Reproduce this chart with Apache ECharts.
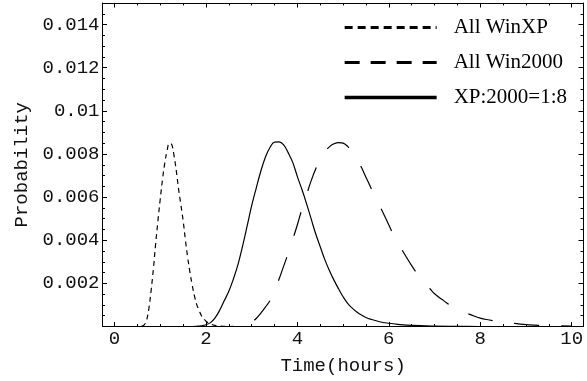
<!DOCTYPE html>
<html><head><meta charset="utf-8">
<script src="https://cdn.jsdelivr.net/npm/echarts@6/dist/echarts.min.js"></script>
<style>html,body{margin:0;padding:0;background:#fff}#c{width:587px;height:381px}</style>
</head><body><div id="c"></div>
<script>
const seriesNames = ['All WinXP', 'All Win2000', 'XP:2000=1:8'];

const xpX = [0, 0.5, 0.6, 0.65, 0.7, 0.75, 0.8, 0.85, 0.9, 0.95, 1.0, 1.05, 1.1, 1.15, 1.2, 1.25, 1.3, 1.35, 1.4, 1.45, 1.5, 1.55, 1.6, 1.65, 1.7, 1.75, 1.8, 1.85, 1.9, 2.0, 2.1, 2.2, 2.3, 2.5, 3, 10];
const xpY = [0, 0, 0.00002, 0.00007, 0.00028, 0.00081, 0.00165, 0.00266, 0.00383, 0.0049, 0.0059, 0.00681, 0.00759, 0.00815, 0.0085, 0.00845, 0.00795, 0.00725, 0.0064, 0.00567, 0.00493, 0.00403, 0.00321, 0.00252, 0.00192, 0.00141, 0.001, 0.00076, 0.00051, 0.00025, 0.00012, 0.00005, 0.00002, 0, 0, 0];

const w2kX = [0, 2.5, 2.7, 2.8, 2.9, 3.0, 3.1, 3.2, 3.3, 3.4, 3.5, 3.6, 3.7, 3.8, 3.9, 4.0, 4.1, 4.2, 4.3, 4.4, 4.5, 4.6, 4.7, 4.8, 4.9, 5.0, 5.1, 5.2, 5.3, 5.4, 5.5, 5.6, 5.7, 5.8, 5.9, 6.0, 6.1, 6.2, 6.3, 6.4, 6.5, 6.6, 6.7, 6.8, 6.9, 7.0, 7.2, 7.4, 7.6, 7.8, 8.0, 8.2, 8.4, 8.6, 8.8, 9.0, 9.3, 9.6, 10];
const w2kY = [0, 0, 0.00002, 0.00005, 0.00012, 0.00022, 0.00037, 0.00062, 0.0009, 0.0012, 0.00165, 0.0022, 0.0028, 0.0034, 0.00405, 0.00472, 0.00545, 0.0061, 0.00675, 0.0073, 0.00775, 0.0081, 0.00833, 0.00847, 0.00853, 0.0085, 0.00835, 0.0081, 0.00778, 0.00738, 0.00692, 0.00647, 0.00603, 0.0056, 0.00516, 0.00471, 0.00426, 0.00389, 0.00351, 0.00316, 0.00282, 0.0025, 0.00221, 0.00198, 0.00175, 0.00152, 0.0012, 0.0009, 0.0007, 0.00054, 0.00039, 0.0003, 0.00022, 0.00017, 0.00013, 0.00009, 0.00005, 0.00003, 0.00002];

const mixX = [0, 1.7, 1.8, 1.9, 2.0, 2.1, 2.2, 2.3, 2.4, 2.5, 2.6, 2.7, 2.8, 2.9, 3.0, 3.1, 3.2, 3.3, 3.4, 3.5, 3.6, 3.7, 3.8, 3.9, 4.0, 4.1, 4.2, 4.3, 4.4, 4.5, 4.6, 4.7, 4.8, 4.9, 5.0, 5.1, 5.2, 5.3, 5.4, 5.5, 5.6, 5.8, 6.0, 6.2, 6.5, 7.0, 7.5, 8.0, 10];
const mixY = [0, 0, 0.00001, 0.00003, 0.00008, 0.00018, 0.0004, 0.00075, 0.00119, 0.00163, 0.0022, 0.00287, 0.00372, 0.00465, 0.0056, 0.00642, 0.0072, 0.00785, 0.0083, 0.00855, 0.00856, 0.00842, 0.00805, 0.0076, 0.00695, 0.00635, 0.0057, 0.005, 0.0043, 0.0037, 0.0031, 0.0026, 0.00215, 0.00175, 0.00138, 0.00107, 0.00085, 0.00067, 0.00053, 0.00042, 0.00034, 0.00022, 0.00015, 0.0001, 0.00005, 0.00002, 0.00001, 0, 0];

const xMajor = 2, xMinor = 0.5, yMajor = 0.002, yMinor = 0.0005;

const pairs = (xs, ys) => xs.map((x, i) => [x, ys[i]]);
const labFont = {fontFamily: 'Liberation Mono', fontSize: 19, color: '#111'};
const off = {show: false};
const C = '#000';
const lineOn = {show: true, onZero: false, lineStyle: {color: C, width: 1}};
const lineOff = {show: false, onZero: false};
const MAJ = 4.5, MIN = 2.5;

function xAx(pos, interval, len, labels, extra) {
  return Object.assign({
    type: 'value', gridIndex: 1, position: pos, min: 0, max: 10, interval: interval,
    axisLine: lineOff, splitLine: off,
    axisTick: {show: true, inside: true, length: len, lineStyle: {color: C, width: 1}},
    axisLabel: labels ? Object.assign({show: true, margin: 3}, labFont) : off
  }, extra || {});
}
function yAx(pos, interval, len, labels, line, extra) {
  return Object.assign({
    type: 'value', gridIndex: 0, position: pos, min: 0, max: 0.015, interval: interval,
    axisLine: line ? lineOn : lineOff,
    splitLine: off,
    axisTick: {show: true, inside: true, length: len, lineStyle: {color: C, width: 1}},
    axisLabel: labels ? Object.assign({show: true, margin: 3,
      formatter: v => (v <= 0 || v > 0.0145) ? '' : String(parseFloat(v.toFixed(4)))}, labFont) : off
  }, extra || {});
}

const chart = echarts.init(document.getElementById('c'), null, {renderer: 'canvas'});
chart.setOption({
  animation: false,
  backgroundColor: '#fff',
  grid: [
    {left: 102.5, right: 4, top: 3, bottom: 54.5},
    {left: 114.5, right: 15.3, top: 3, bottom: 54.5}
  ],
  xAxis: [
    {type: 'value', gridIndex: 0, position: 'bottom', min: -0.25, max: 10.25,
     axisLine: lineOn, axisTick: off, axisLabel: off, splitLine: off},
    {type: 'value', gridIndex: 0, position: 'top', min: -0.25, max: 10.25,
     axisLine: lineOn, axisTick: off, axisLabel: off, splitLine: off},
    xAx('bottom', xMajor, MAJ, true, {name: 'Time(hours)', nameLocation: 'middle', nameGap: 30,
      nameTextStyle: labFont}),
    xAx('bottom', xMinor, MIN, false),
    xAx('top', xMajor, MAJ, false),
    xAx('top', xMinor, MIN, false)
  ],
  yAxis: [
    yAx('left', yMajor, MAJ, true, true, {name: 'Probability', nameLocation: 'middle', nameGap: 71,
      nameTextStyle: labFont}),
    yAx('left', yMinor, MIN, false, false),
    yAx('right', yMajor, MAJ, false, true),
    yAx('right', yMinor, MIN, false, false),
    {type: 'value', gridIndex: 1, min: 0, max: 0.015, show: false, axisLine: lineOff, splitLine: off}
  ],
  legend: {
    orient: 'vertical', left: 343, top: 17, padding: 0, itemWidth: 92, itemHeight: 20, itemGap: 14,
    selectedMode: false,
    textStyle: {fontFamily: 'Liberation Serif', fontSize: 21, color: '#000', padding: [0, 0, 0, 12]},
    itemStyle: {opacity: 0},
    data: [
      {name: seriesNames[0], lineStyle: {type: [8, 5], width: 3}},
      {name: seriesNames[1], lineStyle: {type: [15, 11], width: 3}},
      {name: seriesNames[2], lineStyle: {type: 'solid', width: 3.3}}
    ]
  },
  series: [
    {name: seriesNames[0], type: 'line', xAxisIndex: 2, yAxisIndex: 4, data: pairs(xpX, xpY),
     symbol: 'none', smooth: 0.4, lineStyle: {color: C, width: 1.2, type: [5, 4]}, itemStyle: {color: C}},
    {name: seriesNames[1], type: 'line', xAxisIndex: 2, yAxisIndex: 4, data: pairs(w2kX, w2kY),
     symbol: 'none', smooth: 0.4, lineStyle: {color: C, width: 1.2, type: [25, 22]}, itemStyle: {color: C}},
    {name: seriesNames[2], type: 'line', xAxisIndex: 2, yAxisIndex: 4, data: pairs(mixX, mixY),
     symbol: 'none', smooth: 0.4, lineStyle: {color: C, width: 1.2, type: 'solid'}, itemStyle: {color: C}}
  ]
});
</script></body></html>
